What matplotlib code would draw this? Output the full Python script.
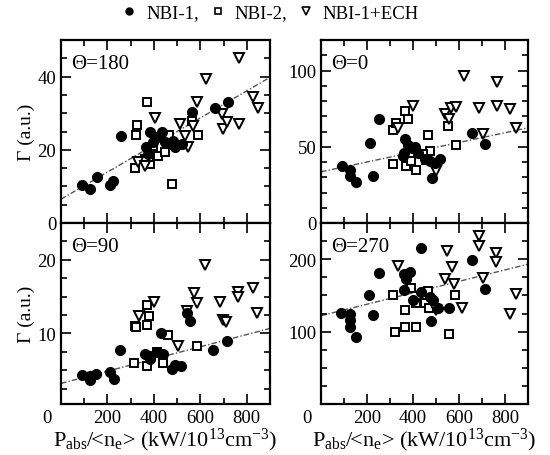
import matplotlib
matplotlib.use("Agg")
import matplotlib.pyplot as plt
import matplotlib.transforms as mtransforms
from matplotlib.lines import Line2D
import numpy as np

plt.rcParams['font.family'] = ['Liberation Serif', 'DejaVu Serif']
plt.rcParams['mathtext.fontset'] = 'custom'
plt.rcParams['mathtext.rm'] = 'Liberation Serif'
plt.rcParams['mathtext.it'] = 'Liberation Serif:italic'

# ---------------- data ----------------
titles = ["Θ=180", "Θ=0", "Θ=90", "Θ=270"]
series_labels = ["NBI-1,", "NBI-2,", "NBI-1+ECH"]

# Theta = 180
t180_nbi1_x = [89, 125, 154, 211, 225, 257, 366, 376, 383, 397, 412, 433, 448, 477, 484, 491, 520, 563, 663, 720]
t180_nbi1_y = [10.4, 9.3, 12.7, 10.4, 11.6, 23.7, 20.7, 18.9, 24.8, 22, 23.4, 24.9, 22, 21.6, 22.3, 20.7, 21.6, 30.2, 31.3, 33.1]
t180_nbi2_x = [372, 329, 322, 319, 383, 398, 419, 448, 466, 477, 563, 591, 380, 360]
t180_nbi2_y = [33, 26.8, 24, 15, 16.1, 21.1, 18.4, 19.5, 24, 10.7, 28, 24, 18, 17.5]
t180_ech_x = [405, 333, 362, 512, 548, 534, 570, 584, 624, 692, 696, 713, 768, 768, 825, 850]
t180_ech_y = [28.6, 16.6, 15.7, 27, 20.7, 23.9, 26.6, 33, 39.3, 29.8, 25.7, 27.5, 45, 27, 34.3, 31.4]
t180_fit = (6.5, 0.037)

# Theta = 0
t0_nbi1_x = [92, 128, 128, 153, 211, 228, 254, 367, 363, 356, 380, 395, 410, 421, 450, 472, 483, 494, 518, 657, 715]
t0_nbi1_y = [37.7, 35, 31, 26.6, 52.7, 31, 68, 54.9, 46, 43.8, 51, 49, 50, 46, 42, 40.5, 29.5, 39.5, 42, 58.8, 51.5]
t0_nbi2_x = [315, 315, 327, 366, 380, 370, 392, 414, 385, 464, 472, 443, 455, 551, 587]
t0_nbi2_y = [38.8, 61, 65.4, 73.6, 68.5, 37.2, 40.5, 34.6, 46, 57.5, 47.1, 45, 41.6, 63.7, 50.9]
t0_ech_x = [334, 402, 501, 537, 556, 566, 587, 620, 686, 703, 764, 764, 823, 849]
t0_ech_y = [62.6, 76.5, 33.9, 71.4, 68, 75.1, 75.8, 96.7, 75.3, 58.2, 92.7, 76.5, 74.7, 62.6]
t0_fit = (33.6, 0.032)

# Theta = 90
t90_nbi1_x = [89, 125, 125, 151, 211, 228, 254, 362, 383, 412, 440, 383, 431, 477, 490, 517, 556, 544, 656, 716]
t90_nbi1_y = [4.3, 3.6, 4.2, 4.5, 4.8, 3.8, 7.8, 7.2, 6.9, 7.4, 7.2, 6.5, 10.1, 5.1, 5.7, 5.6, 11.7, 12.8, 7.8, 9.0]
t90_nbi2_x = [319, 322, 369, 380, 369, 314, 369, 412, 462, 440, 584]
t90_nbi2_y = [11, 10.8, 13.9, 12.3, 11.2, 6.0, 5.6, 7.5, 9.8, 6.0, 8.3]
t90_ech_x = [337, 400, 505, 541, 572, 584, 620, 686, 696, 710, 763, 763, 826, 845]
t90_ech_y = [12.3, 14.3, 8.3, 13.0, 15.5, 14.1, 19.3, 14.3, 11.8, 11.6, 15.6, 15.0, 16.2, 12.8]
t90_fit = (3.2, 0.0083)

# Theta = 270
t270_nbi1_x = [88, 124, 124, 124, 150, 208, 225, 251, 363, 388, 370, 433, 363, 399, 436, 472, 479, 486, 508, 556, 657, 715]
t270_nbi1_y = [126, 125, 116, 107, 92, 151, 123, 181, 179, 183, 173, 215, 157, 143, 155, 148, 114, 144, 132, 133, 199, 159]
t270_nbi2_x = [315, 320, 367, 411, 367, 392, 414, 453, 464, 468, 556, 584]
t270_nbi2_y = [151, 99, 106, 107, 130, 160, 139, 139, 156, 132, 97, 151]
t270_ech_x = [334, 501, 537, 547, 570, 580, 614, 689, 686, 704, 762, 759, 820, 846]
t270_ech_y = [191, 130, 173, 211, 189, 166, 132, 232, 218, 174, 208, 196, 125, 152]
t270_fit = (122, 0.079)

x_ticks = [0, 200, 400, 600, 800]
ylims = [(0, 50), (0, 120), (0.4, 25), (0, 250)]
yticks = [[0, 20, 40], [0, 50, 100], [10, 20], [100, 200]]
yminor = [5, 10, 2.5, 25]

panels = [
    (t180_nbi1_x, t180_nbi1_y, t180_nbi2_x, t180_nbi2_y, t180_ech_x, t180_ech_y, t180_fit),
    (t0_nbi1_x, t0_nbi1_y, t0_nbi2_x, t0_nbi2_y, t0_ech_x, t0_ech_y, t0_fit),
    (t90_nbi1_x, t90_nbi1_y, t90_nbi2_x, t90_nbi2_y, t90_ech_x, t90_ech_y, t90_fit),
    (t270_nbi1_x, t270_nbi1_y, t270_nbi2_x, t270_nbi2_y, t270_ech_x, t270_ech_y, t270_fit),
]

# ---------------- figure ----------------
W, H = 550, 456
fig = plt.figure(figsize=(W / 100, H / 100), dpi=100)

col_x = [61 / W, 321 / W]
col_w = [209 / W, 207 / W]
row_top = [41, 224]
row_bot = [224, 405]

FS = 13.5
circ = dict(marker='o', color='black', markersize=7, linestyle='none')
sq = dict(marker='s', markerfacecolor='white', markeredgecolor='black', markeredgewidth=1.4,
          markersize=5.5, linestyle='none')
tri = dict(marker='v', markerfacecolor='white', markeredgecolor='black', markeredgewidth=1.4,
           markersize=7, linestyle='none')

axes = []
for i, p in enumerate(panels):
    r, c = divmod(i, 2)
    bottom = 1 - row_bot[r] / H
    height = (row_bot[r] - row_top[r]) / H
    ax = fig.add_axes([col_x[c], bottom, col_w[c], height])
    axes.append(ax)
    n1x, n1y, n2x, n2y, ex, ey, fit = p
    xs = np.array([0, 900])
    ax.plot(xs, fit[0] + fit[1] * xs, color='#555555', lw=1.0,
            linestyle=(0, (4, 1.5, 1, 1.5)), zorder=1)
    ax.plot(n1x, n1y, **circ, zorder=3)
    ax.plot(n2x, n2y, **sq, zorder=2)
    ax.plot(ex, ey, **tri, zorder=2)
    ax.set_xlim(0, 900)
    ax.set_ylim(*ylims[i])
    ax.set_xticks(x_ticks)
    ax.set_xticks([100, 300, 500, 700, 900], minor=True)
    ax.set_yticks(yticks[i])
    ax.yaxis.set_minor_locator(matplotlib.ticker.MultipleLocator(yminor[i]))
    ax.tick_params(which='both', direction='in', top=True, right=True, labelsize=FS, width=1.2)
    ax.tick_params(which='major', length=7)
    ax.tick_params(which='minor', length=4)
    for s in ax.spines.values():
        s.set_linewidth(1.6)
    if r == 0:
        ax.tick_params(labelbottom=False)
    else:
        ax.set_xlabel(r'P$_{\rm abs}$/<n$_{\rm e}$> (kW/10$^{13}$cm$^{-3}$)', fontsize=16, labelpad=0)
    if c == 0:
        ax.set_ylabel('Γ (a.u.)', fontsize=FS + 0.5, labelpad=2)
    ax.text(0.05, 0.87, titles[i], transform=ax.transAxes, fontsize=15, va='center', ha='left')

fig.canvas.draw()
for ax in axes[2:]:
    lbls = ax.get_xticklabels()
    off = mtransforms.ScaledTranslation(-10 / 72, 0, fig.dpi_scale_trans)
    lbls[0].set_transform(lbls[0].get_transform() + off)

handles = [Line2D([], [], marker='o', color='black', markersize=5, linestyle='none'),
           Line2D([], [], marker='s', markerfacecolor='white', markeredgecolor='black',
                  markeredgewidth=1.2, markersize=4.5, linestyle='none'),
           Line2D([], [], marker='v', markerfacecolor='white', markeredgecolor='black',
                  markeredgewidth=1.2, markersize=5.5, linestyle='none')]
fig.legend(handles, series_labels, loc='center', bbox_to_anchor=(0.49, 1 - 14 / H), ncol=3,
           frameon=False, fontsize=FS, handlelength=1.0, handletextpad=0.4, columnspacing=0.5,
           borderpad=0)

fig.savefig('out.png', dpi=100)
